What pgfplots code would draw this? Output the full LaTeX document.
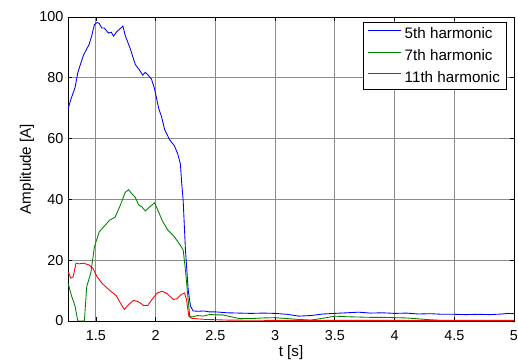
\documentclass[border=0pt]{standalone}
\usepackage{fontspec}
\setmainfont{Liberation Sans}
\usepackage{pgfplots}
\pgfplotsset{compat=1.18}
\definecolor{mblue}{RGB}{0,0,255}
\definecolor{mgreen}{RGB}{0,128,0}
\definecolor{mred}{RGB}{255,0,0}
\begin{document}
\begin{tikzpicture}
\begin{axis}[
  name=ax,
  at={(0,0)}, anchor=south west,
  scale only axis,
  width=334.5pt, height=228pt,
  xmin=1.267, xmax=5, ymin=0, ymax=100,
  xtick={1.5,2,2.5,3,3.5,4,4.5,5},
  xticklabels={1.5,2,2.5,3,3.5,4,4.5,5},
  ytick={0,20,40,60,80,100},
  /pgf/number format/assume math mode=true,
  tick label style={font=\fontsize{10.8}{12}\selectfont},
  xticklabel style={yshift=-3.5pt},
  label style={font=\fontsize{11.4}{13}\selectfont},
  xlabel={t [s]}, ylabel={Amplitude [A]},
  xlabel style={yshift=3.5pt},
  ylabel style={yshift=-3pt},
  grid=major,
  major grid style={black!45, line width=0.6pt},
  tick align=inside,
  major tick length=3pt,
  tick style={black, line width=0.5pt},
  axis line style={black, line width=0.6pt},
  xtick pos=both, ytick pos=both,
  legend style={at={(rel axis cs:0.984,0.983)}, anchor=north east,
    font=\fontsize{11.4}{13}\selectfont, draw=black, fill=white,
    inner xsep=3pt, inner ysep=2pt, row sep=2.5pt, cells={anchor=west}},
  legend image code/.code={\draw[#1, line width=0.9pt] (0cm,0.1cm) -- (0.88cm,0.1cm);},
  every axis plot/.append style={line width=0.65pt},
]
\addplot[color=mblue] coordinates {
(1.267,69.7)(1.29,72.8)(1.326,76.8)(1.349,81.7)(1.396,87.4)(1.444,91)(1.466,93.9)(1.488,97.5)
(1.51,98.2)(1.528,97.9)(1.55,96.4)(1.57,96.4)(1.606,94.7)(1.629,95)(1.648,93.7)(1.676,95.2)
(1.727,97)(1.746,93.9)(1.788,89.6)(1.83,84.4)(1.866,82.5)(1.892,80.9)(1.914,81.8)(1.937,80.9)
(1.965,79.6)(1.99,76.6)(2.026,70)(2.049,67.3)(2.076,63)(2.116,59.7)(2.158,57.6)(2.186,54.9)
(2.208,51.6)(2.217,46.2)(2.231,39.6)(2.25,23.4)(2.273,10.3)(2.292,4.9)(2.315,3.3)(2.36,3.2)
(2.404,3.3)(2.45,3.0)(2.5,3.0)(2.6,2.7)(2.7,2.6)(2.797,2.5)(2.9,2.6)(3.0,2.5)(3.1,2.2)(3.2,1.6)
(3.3,1.8)(3.4,2.3)(3.5,2.5)(3.6,2.7)(3.7,2.9)(3.8,2.6)(3.9,2.7)(4.0,2.5)(4.1,2.6)(4.2,2.3)
(4.3,2.4)(4.4,2.2)(4.5,2.2)(4.6,2.1)(4.7,2.2)(4.8,2.1)(4.9,2.3)(4.95,2.5)(5,2.4)
};
\addlegendentry{5th harmonic}
\addplot[color=mgreen] coordinates {
(1.267,12.5)(1.298,8.1)(1.326,4.9)(1.349,0)(1.404,0)(1.424,11.4)(1.458,15.8)(1.488,24.4)
(1.528,29.3)(1.564,30.9)(1.614,33.1)(1.662,34.2)(1.704,38)(1.746,42.3)(1.774,43.2)(1.797,42)
(1.83,40.7)(1.858,38.2)(1.887,37.5)(1.914,36.2)(1.95,37.5)(1.992,38.9)(2.026,35.8)(2.055,33.1)
(2.102,29.9)(2.147,28.2)(2.194,25.7)(2.231,23.4)(2.25,16.8)(2.265,10.3)(2.286,1.6)(2.305,1.3)
(2.35,1.8)(2.40,1.6)(2.46,2.2)(2.5,2.0)(2.56,2.0)(2.62,1.5)(2.7,0.8)(2.8,0.8)(2.9,1.0)(3.0,1.1)
(3.1,0.8)(3.2,0.5)(3.3,0.3)(3.4,0.9)(3.5,1.6)(3.6,1.4)(3.7,1.3)(3.8,1.2)(3.9,1.2)(4.0,1.1)
(4.1,1.0)(4.2,0.7)(4.3,0.4)(4.35,0.3)(4.4,0.1)(4.6,0.1)(4.8,0.1)(5,0.1)
};
\addlegendentry{7th harmonic}
\addplot[color=mred] coordinates {
(1.267,16.3)(1.29,14.1)(1.31,14.5)(1.334,19)(1.36,18.8)(1.396,19)(1.44,18.5)(1.475,17.4)
(1.508,14.7)(1.55,12.5)(1.592,10.9)(1.634,9.5)(1.67,8.4)(1.704,6.0)(1.738,3.8)(1.774,5.4)
(1.816,6.8)(1.858,6.3)(1.9,5.1)(1.934,5.1)(1.97,7.1)(2.013,9.2)(2.055,9.8)(2.097,9.0)
(2.147,7.1)(2.18,7.3)(2.214,8.7)(2.242,9.2)(2.259,7.1)(2.278,1.6)(2.30,0.9)(2.35,0.7)
(2.43,0.5)(2.6,0.3)(3.0,0.2)(3.5,0.2)(4.0,0.2)(4.5,0.2)(5,0.2)
};
\addlegendentry{11th harmonic}
\end{axis}
\pgfresetboundingbox
\path[use as bounding box] (-51pt,-31.5pt) rectangle (337.5pt,240.75pt);
\end{tikzpicture}
\end{document}
